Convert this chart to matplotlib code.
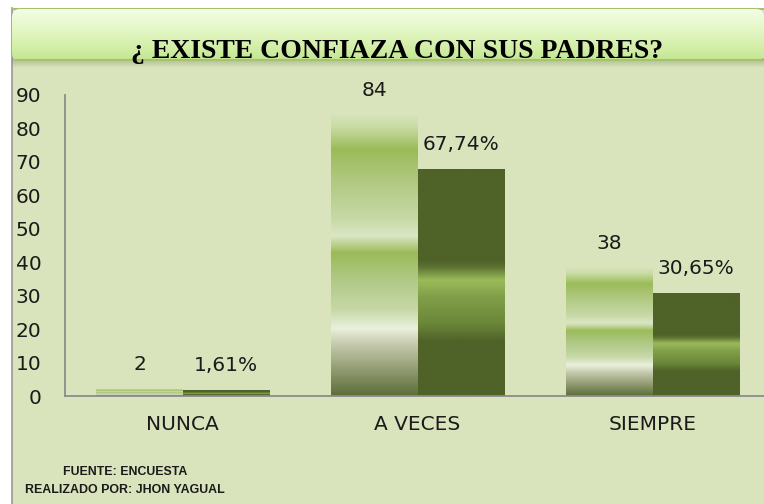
import numpy as np
import matplotlib
matplotlib.use("Agg")
import matplotlib.pyplot as plt
from matplotlib.colors import to_rgb
from matplotlib.patches import Rectangle, FancyBboxPatch
from matplotlib.lines import Line2D

# ---------------- data ----------------
categories = ["NUNCA", "A VECES", "SIEMPRE"]
frecuencia = [2, 84, 38]
porcentaje = [1.61, 67.74, 30.65]
freq_labels = ["2", "84", "38"]
pct_labels = ["1,61%", "67,74%", "30,65%"]
yticks = [0, 10, 20, 30, 40, 50, 60, 70, 80, 90]
title = "¿ EXISTE CONFIAZA CON SUS PADRES?"
footer1 = "FUENTE: ENCUESTA"
footer2 = "REALIZADO POR: JHON YAGUAL"

W, H = 764, 504
BG = "#d9e4bd"

# gradient stops (fraction from top of bar, colour)
light_stops = [(0.00, "#d6e3b9"), (0.04, "#c9dca4"), (0.12, "#9bbb59"),
               (0.25, "#b3cb86"), (0.37, "#c8d9a6"), (0.43, "#dbe7c4"),
               (0.49, "#9bbb59"), (0.58, "#afc884"), (0.69, "#c6d7a5"),
               (0.76, "#eaf0dc"), (0.82, "#c3c8ab"), (0.92, "#8a956a"),
               (1.00, "#5d6e3a")]
dark_stops = [(0.00, "#4f6228"), (0.40, "#4f6228"), (0.43, "#5a7030"),
              (0.49, "#9bbb59"), (0.56, "#82a04a"), (0.68, "#6b8739"),
              (0.76, "#4f6228"), (1.00, "#4f6228")]


def gradient(stops, n=256):
    t = np.linspace(0, 1, n)
    pos = [s[0] for s in stops]
    cols = np.array([to_rgb(s[1]) for s in stops])
    img = np.stack([np.interp(t, pos, cols[:, k]) for k in range(3)], axis=-1)
    return img[:, None, :]


fig = plt.figure(figsize=(W / 100, H / 100), dpi=100, facecolor="white")

# background panel
fig.patches.append(Rectangle((12 / W, 0), 1 - 12 / W, (H - 8) / H,
                             transform=fig.transFigure, facecolor=BG,
                             edgecolor="none", zorder=-5))
fig.lines.append(Line2D([11.5 / W, 11.5 / W], [0, (H - 8) / H],
                        transform=fig.transFigure, color="#999999", lw=1.2,
                        zorder=-4))
fig.lines.append(Line2D([12 / W, 1], [(H - 8.5) / H, (H - 8.5) / H],
                        transform=fig.transFigure, color="#a5c26a", lw=1.5,
                        zorder=-4))

# banner shadow
sh = fig.add_axes([12 / W, (H - 68) / H, 1 - 12 / W, 10 / H])
sh.set_axis_off()
shadow = np.zeros((20, 1, 4))
shadow[:, 0, :3] = to_rgb("#7f8a66")
shadow[:, 0, 3] = np.linspace(0.55, 0.0, 20)
sh.imshow(shadow, aspect="auto", extent=[0, 1, 0, 1])

# banner
ba = fig.add_axes([12 / W, (H - 61) / H, 1 - 12 / W, 52 / H])
ba.set_axis_off()
ba.set_xlim(0, 1)
ba.set_ylim(0, 1)
bstops = [(0.0, "#f3fde6"), (0.35, "#e6f8c9"), (0.85, "#cdeb9f"), (1.0, "#c2e48f")]
im = ba.imshow(gradient(bstops), aspect="auto", extent=[0, 1, 0, 1])
clip = FancyBboxPatch((0, 0), 1, 1, boxstyle="round,pad=0,rounding_size=0.0106",
                      mutation_aspect=14.5, transform=ba.transAxes,
                      facecolor="none", edgecolor="none")
ba.add_patch(clip)
im.set_clip_path(clip)
ba.plot([0.005, 1], [0.01, 0.01], color="#a3c46c", lw=1.5, transform=ba.transAxes)

fig.text(397 / W, (H - 58) / H, title, ha="center", va="baseline",
         family="Liberation Serif", weight="bold", fontsize=20, color="black")

# main axes
ax = fig.add_axes([65 / W, 108 / H, 1 - 65 / W, 301 / H])
ax.set_facecolor("none")
x = np.arange(len(categories))
w = 0.366
bars1 = ax.bar(x - w / 2, frecuencia, width=w, color="none", edgecolor="none")
bars2 = ax.bar(x + w / 2, porcentaje, width=w, color="none", edgecolor="none")

for bars, stops in ((bars1, light_stops), (bars2, dark_stops)):
    for p in bars:
        x0, y0 = p.get_x(), p.get_y()
        bw, bh = p.get_width(), p.get_height()
        ax.imshow(gradient(stops), aspect="auto", interpolation="bilinear",
                  extent=[x0, x0 + bw, y0, y0 + bh], zorder=2)

for bars, labels in ((bars1, freq_labels), (bars2, pct_labels)):
    for p, lab in zip(bars, labels):
        ax.annotate(lab, (p.get_x() + p.get_width() / 2, p.get_height()),
                    xytext=(0, 18), textcoords="offset points",
                    ha="center", va="center", fontsize=14.5, color="#1a1a1a")

ax.set_xlim(-0.5, (W - 182.5) / 235)
ax.set_ylim(0, 90)
ax.set_yticks(yticks)
ax.set_yticklabels([str(v) for v in yticks])
ax.set_xticks(x)
ax.set_xticklabels(categories)
ax.tick_params(axis="y", length=0, pad=17, labelsize=14.5, labelcolor="#1a1a1a")
ax.tick_params(axis="x", length=0, pad=14, labelsize=14.5, labelcolor="#1a1a1a")
for s in ("top", "right"):
    ax.spines[s].set_visible(False)
for s in ("left", "bottom"):
    ax.spines[s].set_color("#8c8c8c")
    ax.spines[s].set_linewidth(1.3)

fig.text(125 / W, (H - 472) / H, footer1, ha="center", va="center",
         family="Liberation Sans", weight="bold",
         fontsize=8.9, color="#1a1a1a")
fig.text(125 / W, (H - 490) / H, footer2, ha="center", va="center",
         family="Liberation Sans", weight="bold",
         fontsize=8.9, color="#1a1a1a")

fig.savefig("out.png", dpi=100, facecolor="white")
